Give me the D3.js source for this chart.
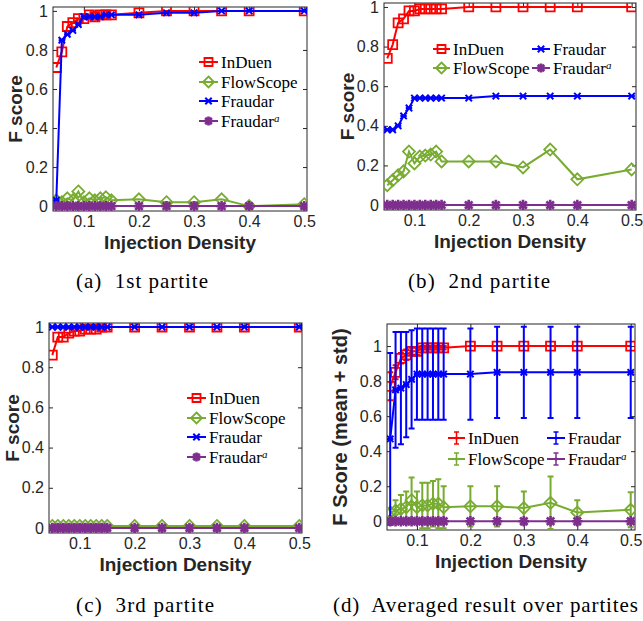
<!DOCTYPE html>
<html><head><meta charset="utf-8">
<script src="https://cdn.jsdelivr.net/npm/d3@7"></script>
<style>body{margin:0;background:#fff}svg{display:block}</style>
</head><body>
<script>
// ---- data ----
const xVals = [0.05,0.06,0.07,0.08,0.09,0.10,0.11,0.12,0.13,0.14,0.15,0.2,0.25,0.3,0.35,0.4,0.5];
const xTicks = [0.1,0.2,0.3,0.4,0.5];
const yTicks = [0,0.2,0.4,0.6,0.8,1];
const seriesNames = ["InDuen","FlowScope","Fraudar","FraudarA"];

// (a) 1st partite
const aInDuen    = [0.71,0.79,0.92,0.94,0.96,0.96,0.98,0.97,0.98,0.98,0.98,0.99,1.0,1.0,1.0,1.0,1.0];
const aFlowScope = [0.03,0.02,0.04,0.03,0.075,0.02,0.04,0.03,0.04,0.045,0.03,0.035,0.02,0.02,0.035,0.0,0.01];
const aFraudar   = [0.03,0.85,0.88,0.90,0.93,0.97,0.97,0.97,0.97,0.98,0.98,0.98,0.99,0.99,1.0,1.0,1.0];
const aFraudarA  = [0,0,0,0,0,0,0,0,0,0,0,0,0,0,0,0,0];
// (b) 2nd partite
const bInDuen    = [0.74,0.81,0.92,0.94,0.98,0.98,0.99,0.99,0.99,0.99,0.99,1.0,1.0,1.0,1.0,1.0,1.0];
const bFlowScope = [0.10,0.125,0.15,0.17,0.27,0.21,0.245,0.25,0.255,0.27,0.22,0.22,0.22,0.19,0.28,0.13,0.18];
const bFraudar   = [0.38,0.38,0.40,0.45,0.49,0.54,0.54,0.54,0.54,0.54,0.54,0.54,0.55,0.55,0.55,0.55,0.55];
const bFraudarA  = [0,0,0,0,0,0,0,0,0,0,0,0,0,0,0,0,0];
// (c) 3rd partite
const cInDuen    = [0.86,0.95,0.95,0.97,0.98,0.98,0.99,0.99,0.99,1.0,1.0,1.0,1.0,1.0,1.0,1.0,1.0];
const cFlowScope = [0.01,0.01,0.01,0.01,0.01,0.01,0.01,0.01,0.01,0.01,0.01,0.01,0.01,0.01,0.01,0.01,0.01];
const cFraudar   = [1,1,1,1,1,1,1,1,1,1,1,1,1,1,1,1,1];
const cFraudarA  = [0,0,0,0,0,0,0,0,0,0,0,0,0,0,0,0,0];
// (d) averaged: mean and std
const dInDuen       = [0.77,0.85,0.93,0.95,0.97,0.97,0.99,0.99,0.99,0.99,0.99,1.0,1.0,1.0,1.0,1.0,1.0];
const dInDuenStd    = [0.08,0.04,0.03,0.03,0.02,0.02,0.01,0.01,0.01,0.01,0.01,0,0,0,0,0,0];
const dFlowScope    = [0.05,0.06,0.07,0.08,0.12,0.08,0.09,0.09,0.10,0.10,0.08,0.085,0.085,0.075,0.105,0.05,0.065];
const dFlowScopeStd = [0.02,0.06,0.08,0.09,0.13,0.09,0.13,0.13,0.13,0.14,0.12,0.115,0.115,0.095,0.15,0.07,0.10];
const dFraudar      = [0.47,0.75,0.76,0.78,0.81,0.84,0.84,0.84,0.84,0.84,0.84,0.84,0.85,0.85,0.85,0.85,0.85];
const dFraudarStd   = [0.49,0.33,0.32,0.30,0.28,0.26,0.26,0.26,0.26,0.26,0.26,0.26,0.26,0.26,0.26,0.26,0.26];
const dFraudarA     = [0,0,0,0,0,0,0,0,0,0,0,0,0,0,0,0,0];
const dFraudarAStd  = [0,0,0,0,0,0,0,0,0,0,0,0,0,0,0,0,0];

const captions = ["(a)  1st partite","(b)  2nd partite","(c)  3rd partite","(d)  Averaged result over partites"];

// ---- styles ----
const colors = {InDuen:"#ff0000", FlowScope:"#77ac30", Fraudar:"#0000ff", FraudarA:"#7e2f8e"};
const axisColor = "#262626";
const sansFont = "'Liberation Sans', Arial, Helvetica, sans-serif";
const serifFont = "'Liberation Serif', 'DejaVu Serif', serif";

const svg = d3.select("body").append("svg").attr("width",643).attr("height",621);

function markerPath(name, s){
  if(name==="InDuen"){ s=s||4.5; return `M${-s},${-s}H${s}V${s}H${-s}Z`; }
  if(name==="FlowScope"){ s=s||6; return `M0,${-s}L${s},0L0,${s}L${-s},0Z`; }
  if(name==="Fraudar"){ s=s||3.2; return `M${-s},${-s}L${s},${s}M${-s},${s}L${s},${-s}M${-s},0H${s}`; }
  s=s||5.2; const d=s*0.72;
  return `M${-s},0H${s}M0,${-s}V${s}M${-d},${-d}L${d},${d}M${-d},${d}L${d},${-d}`;
}
function markerStroke(name){ return name==="FraudarA"?2.6:(name==="Fraudar"?2:1.8); }

let clipId=0;
function panel(cfg){
  const {l,r,t,b} = cfg.box;
  const x = d3.scaleLinear().domain(cfg.xDomain).range([l,r]);
  const y = d3.scaleLinear().domain(cfg.yDomain).range([b,t]);
  const g = svg.append("g");
  const cid = "clip"+(clipId++);
  svg.append("clipPath").attr("id",cid).append("rect").attr("x",l).attr("y",t).attr("width",r-l).attr("height",b-t);

  // axes with inward ticks
  const xAx = d3.axisBottom(x).tickValues(xTicks).tickSize(-4).tickPadding(5).tickFormat(d=>String(d));
  const yAx = d3.axisLeft(y).tickValues(yTicks).tickSize(-4).tickPadding(5).tickFormat(d=>String(+d.toFixed(1)));
  const xTop = d3.axisTop(x).tickValues(xTicks).tickSize(-4).tickFormat("");
  const yRight = d3.axisRight(y).tickValues(yTicks).tickSize(-4).tickFormat("");
  const gx = g.append("g").attr("transform",`translate(0,${b})`).call(xAx);
  const gy = g.append("g").attr("transform",`translate(${l},0)`).call(yAx);
  const gt = g.append("g").attr("transform",`translate(0,${t})`).call(xTop);
  const gr = g.append("g").attr("transform",`translate(${r},0)`).call(yRight);
  [gx,gy,gt,gr].forEach(a=>{
    a.select(".domain").remove();
    a.selectAll("line").attr("stroke",axisColor);
    a.selectAll("text").attr("fill",axisColor).style("font-family",sansFont).style("font-size","16px");
  });
  gx.selectAll("text").attr("dy","0.71em");
  g.append("rect").attr("x",l).attr("y",t).attr("width",r-l).attr("height",b-t)
    .attr("fill","none").attr("stroke",axisColor).attr("stroke-width",1);

  // series
  const plot = g.append("g").attr("clip-path",`url(#${cid})`);
  cfg.series.forEach(s=>{
    const col = colors[s.name];
    const pts = xVals.map((xv,i)=>({x:xv,y:s.values[i],e:s.err?s.err[i]:null}));
    const sg = plot.append("g");
    if(s.err){
      const cw=3;
      pts.forEach(p=>{
        if(p.e>0){
          const y0=y(p.y-p.e), y1=y(p.y+p.e), xp=x(p.x);
          sg.append("path").attr("d",`M${xp},${y0}V${y1}M${xp-cw},${y0}H${xp+cw}M${xp-cw},${y1}H${xp+cw}`)
            .attr("stroke",col).attr("stroke-width",2).attr("fill","none");
        }
      });
    }
    sg.append("path").datum(pts).attr("d",d3.line().x(d=>x(d.x)).y(d=>y(d.y)))
      .attr("fill","none").attr("stroke",col).attr("stroke-width",2);
    sg.selectAll(".m").data(pts).enter().append("path")
      .attr("transform",d=>`translate(${x(d.x)},${y(d.y)})`)
      .attr("d",markerPath(s.name)).attr("fill","none").attr("stroke",col)
      .attr("stroke-width",markerStroke(s.name));
  });

  // axis titles
  g.append("text").attr("x",(l+r)/2).attr("y",b+38).attr("text-anchor","middle")
    .style("font-family",sansFont).style("font-weight","bold").style("font-size","19px")
    .attr("fill",axisColor).text("Injection Density");
  g.append("text").attr("transform",`translate(${l+cfg.yTitleDx},${(t+b)/2}) rotate(-90)`)
    .attr("text-anchor","middle").attr("dy","0.35em")
    .style("font-family",sansFont).style("font-weight","bold").style("font-size",cfg.yTitleSize+"px")
    .attr("fill",axisColor).text(cfg.yTitle);

  // legend
  cfg.legend.forEach(it=>{
    const col = colors[it.name];
    const lg = g.append("g");
    const xm=(it.x0+it.x1)/2;
    lg.append("line").attr("x1",it.x0).attr("x2",it.x1).attr("y1",it.y).attr("y2",it.y)
      .attr("stroke",col).attr("stroke-width",2);
    if(cfg.errLegend){
      lg.append("path").attr("d",`M${xm},${it.y-6}V${it.y+6}M${xm-2.5},${it.y-6}H${xm+2.5}M${xm-2.5},${it.y+6}H${xm+2.5}`)
        .attr("stroke",col).attr("stroke-width",1.5).attr("fill","none");
      lg.append("circle").attr("cx",xm).attr("cy",it.y).attr("r",1.6).attr("fill",col);
    } else {
      lg.append("path").attr("transform",`translate(${xm},${it.y})`)
        .attr("d",markerPath(it.name, it.name==="InDuen"?4:(it.name==="FlowScope"?5.5:(it.name==="FraudarA"?4.5:null))))
        .attr("fill","none").attr("stroke",col).attr("stroke-width",markerStroke(it.name));
    }
    const tx = lg.append("text").attr("x",it.x1+3).attr("y",it.y).attr("dy","0.33em")
      .attr("font-family",serifFont).style("font-family",serifFont).style("font-size","17px").attr("fill","#000");
    if(it.name==="FraudarA"){
      tx.append("tspan").text("Fraudar");
      tx.append("tspan").attr("dy","-0.45em").style("font-size","11px").style("font-style","italic").text("a");
    } else tx.text(it.name);
  });

  // caption
  svg.append("text").attr("x",cfg.cap.x).attr("y",cfg.cap.y)
    .attr("textLength",cfg.cap.w).attr("lengthAdjust","spacing")
    .style("white-space","pre")
    .style("font-family",serifFont).style("font-size","21px").attr("fill","#000")
    .text(cfg.cap.text);
}

function mk(names, vals, errs){ return names.map((n,i)=>({name:n, values:vals[i], err:errs?errs[i]:null})); }

panel({
  box:{l:53,r:307,t:7,b:211}, xDomain:[0.044,0.505], yDomain:[-0.025,1.02],
  series: mk(seriesNames,[aInDuen,aFlowScope,aFraudar,aFraudarA]),
  yTitle:"F score", yTitleDx:-38, yTitleSize:19,
  legend:[{name:"InDuen",x0:199,x1:218,y:62},{name:"FlowScope",x0:199,x1:218,y:82},
          {name:"Fraudar",x0:199,x1:218,y:101},{name:"FraudarA",x0:199,x1:218,y:121}],
  cap:{x:76,y:288,w:132,text:captions[0]}
});
panel({
  box:{l:384,r:636,t:3,b:210}, xDomain:[0.044,0.508], yDomain:[-0.025,1.02],
  series: mk(seriesNames,[bInDuen,bFlowScope,bFraudar,bFraudarA]),
  yTitle:"F score", yTitleDx:-37, yTitleSize:19,
  legend:[{name:"InDuen",x0:433,x1:450,y:49},{name:"FlowScope",x0:433,x1:450,y:68},
          {name:"Fraudar",x0:532,x1:550,y:49},{name:"FraudarA",x0:532,x1:550,y:68}],
  cap:{x:408,y:288,w:142,text:captions[1]}
});
panel({
  box:{l:49,r:302,t:323,b:533}, xDomain:[0.044,0.505], yDomain:[-0.025,1.02],
  series: mk(seriesNames,[cInDuen,cFlowScope,cFraudar,cFraudarA]),
  yTitle:"F score", yTitleDx:-37, yTitleSize:19,
  legend:[{name:"InDuen",x0:187,x1:206,y:398},{name:"FlowScope",x0:187,x1:206,y:418},
          {name:"Fraudar",x0:187,x1:206,y:437},{name:"FraudarA",x0:187,x1:206,y:457}],
  cap:{x:76,y:612,w:138,text:captions[2]}
});
panel({
  box:{l:387,r:635,t:324,b:530}, xDomain:[0.044,0.508], yDomain:[-0.05,1.126], errLegend:true,
  series: mk(seriesNames,[dInDuen,dFlowScope,dFraudar,dFraudarA],[dInDuenStd,dFlowScopeStd,dFraudarStd,dFraudarAStd]),
  yTitle:"F Score (mean + std)", yTitleDx:-47, yTitleSize:20,
  legend:[{name:"InDuen",x0:448,x1:465,y:438},{name:"FlowScope",x0:448,x1:465,y:459},
          {name:"Fraudar",x0:547,x1:565,y:438},{name:"FraudarA",x0:547,x1:565,y:459}],
  cap:{x:333,y:612,w:305,text:captions[3]}
});
</script>
</body></html>
